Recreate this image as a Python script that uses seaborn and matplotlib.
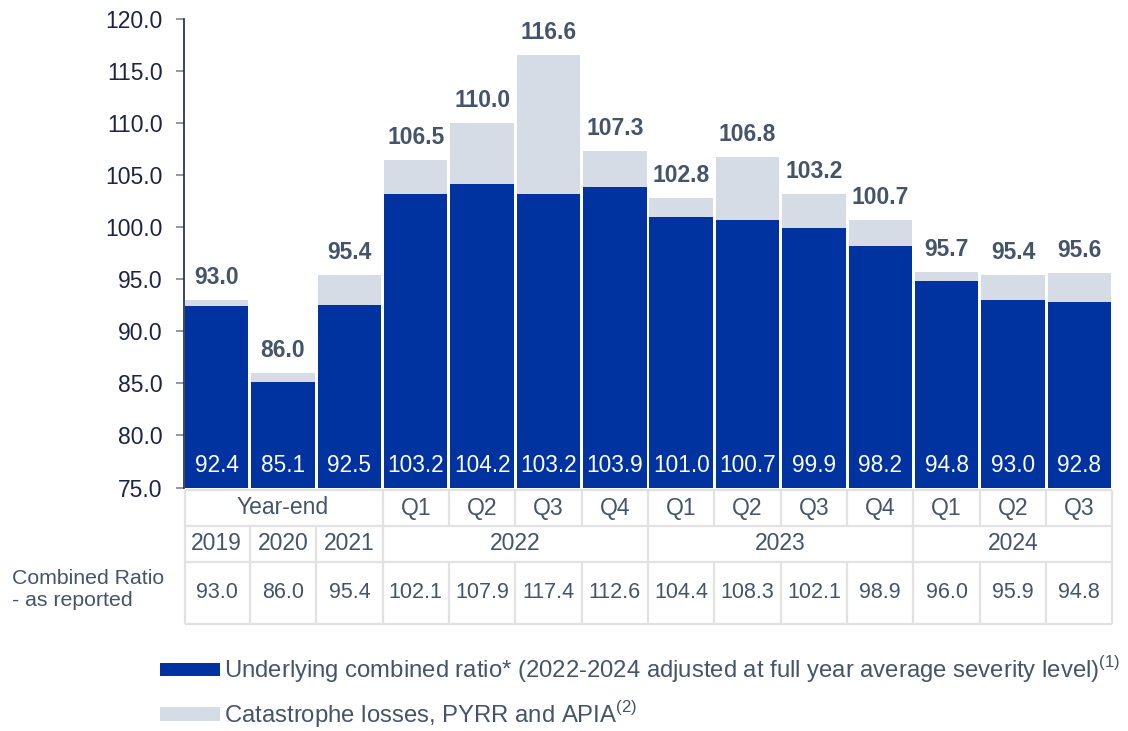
import matplotlib
matplotlib.use("Agg")
import matplotlib.pyplot as plt
import numpy as np
import pandas as pd
import seaborn as sns
from matplotlib.patches import Patch

# ---------------- data ----------------
periods = ["2019", "2020", "2021",
           "2022 Q1", "2022 Q2", "2022 Q3", "2022 Q4",
           "2023 Q1", "2023 Q2", "2023 Q3", "2023 Q4",
           "2024 Q1", "2024 Q2", "2024 Q3"]
underlying = [92.4, 85.1, 92.5, 103.2, 104.2, 103.2, 103.9,
              101.0, 100.7, 99.9, 98.2, 94.8, 93.0, 92.8]
total = [93.0, 86.0, 95.4, 106.5, 110.0, 116.6, 107.3,
         102.8, 106.8, 103.2, 100.7, 95.7, 95.4, 95.6]
reported = [93.0, 86.0, 95.4, 102.1, 107.9, 117.4, 112.6,
            104.4, 108.3, 102.1, 98.9, 96.0, 95.9, 94.8]

sub_labels = ["Year-end", "Q1", "Q2", "Q3", "Q4", "Q1", "Q2", "Q3", "Q4",
              "Q1", "Q2", "Q3"]
sub_spans = [3, 1, 1, 1, 1, 1, 1, 1, 1, 1, 1, 1]
year_labels = ["2019", "2020", "2021", "2022", "2023", "2024"]
year_spans = [1, 1, 1, 4, 4, 3]
yticks = [75, 80, 85, 90, 95, 100, 105, 110, 115, 120]

legend_labels = [
    r"Underlying combined ratio* (2022-2024 adjusted at full year average severity level)$^{\mathregular{(1)}}$",
    r"Catastrophe losses, PYRR and APIA$^{\mathregular{(2)}}$",
]
row_title = "Combined Ratio\n- as reported"

# ---------------- style ----------------
DARK = "#0033a0"
LIGHT = "#d6dce5"
TXT = "#44546a"
NAVY = "#1b2346"
GRID = "#e2e2e2"

sns.set_style("white")
plt.rcParams["font.family"] = ["Liberation Sans", "DejaVu Sans"]
plt.rcParams["mathtext.fontset"] = "custom"
plt.rcParams["mathtext.rm"] = "Liberation Sans"

W, H = 1128, 731
fig = plt.figure(figsize=(W / 100, H / 100), dpi=100)

def px_axes(l, t, r, b):
    return [l / W, 1 - b / H, (r - l) / W, (b - t) / H]

ax = fig.add_axes(px_axes(183.5, 19.3, 1112.5, 487.5))

df = pd.DataFrame({"period": periods, "underlying": underlying, "total": total})
BW = 0.955
sns.barplot(data=df, x="period", y="total", color=LIGHT, saturation=1,
            width=BW, ax=ax, linewidth=0, order=periods)
sns.barplot(data=df, x="period", y="underlying", color=DARK, saturation=1,
            width=BW, ax=ax, linewidth=0, order=periods)

ax.set_xlim(-0.5, len(periods) - 0.5)
ax.set_ylim(75, 120)
ax.set_yticks(yticks)
ax.set_yticklabels([f"{v:.1f}" for v in yticks])
ax.set_xticks([])
ax.set_xlabel("")
ax.set_ylabel("")
for s in ["top", "right", "bottom"]:
    ax.spines[s].set_visible(False)
ax.spines["left"].set_color(NAVY)
ax.spines["left"].set_linewidth(1.2)
ax.tick_params(axis="y", direction="out", length=6, width=1.2, color="#7d869c",
               pad=9, labelsize=16.5, labelcolor=NAVY, left=True)

for i, (u, t) in enumerate(zip(underlying, total)):
    ax.annotate(f"{t:.1f}", xy=(i, t), xytext=(0, 8), textcoords="offset points",
                ha="center", va="bottom", fontsize=16.5, fontweight="bold", color=TXT)
    ax.annotate(f"{u:.1f}", xy=(i, 75), xytext=(0, 11.5), textcoords="offset points",
                ha="center", va="baseline", fontsize=16.3, color="white")

# ---------------- table ----------------
tab = fig.add_axes(px_axes(183.5, 487.5, 1112.5, 627))
tab.set_xlim(-0.5, len(periods) - 0.5)
tab.set_ylim(627, 487.5)
tab.axis("off")

y_rows = [490, 526, 562, 624]
x_left = -0.5 + (1 - BW) / 2
x_right = len(periods) - 0.5
kw = dict(color=GRID, lw=1.6, clip_on=False, solid_capstyle="butt")
for y in y_rows:
    tab.plot([x_left, x_right], [y, y], **kw)
tab.plot([x_left, x_left], [y_rows[0], y_rows[-1]], **kw)
tab.plot([x_right, x_right], [y_rows[0], y_rows[-1]], **kw)

def draw_row(labels, spans, y0, y1, fs):
    pos = 0
    for lab, sp in zip(labels, spans):
        cx = pos + (sp - 1) / 2
        tab.text(cx, (y0 + y1) / 2, lab, ha="center", va="center",
                 fontsize=fs, color=TXT)
        pos += sp
        if pos < len(periods):
            tab.plot([pos - 0.5, pos - 0.5], [y0, y1], **kw)

draw_row(sub_labels, sub_spans, y_rows[0], y_rows[1], 16.5)
draw_row(year_labels, year_spans, y_rows[1], y_rows[2], 16.5)
draw_row([f"{v:.1f}" for v in reported], [1] * len(reported),
         y_rows[2], y_rows[3], 15.5)

fig.text(12 / W, 1 - 590 / H, row_title, ha="left", va="center",
         fontsize=15.3, color=TXT, linespacing=1.2)

# ---------------- legend ----------------
handles = [Patch(facecolor=DARK, edgecolor="none"),
           Patch(facecolor=LIGHT, edgecolor="none")]
leg = fig.legend(handles, legend_labels, loc="upper left",
                 bbox_to_anchor=(160 / W, 1 - 654 / H), frameon=False,
                 fontsize=17.2, handlelength=2.5, handleheight=0.47,
                 handletextpad=0.17, labelspacing=0.58, borderpad=0,
                 borderaxespad=0)
for t in leg.get_texts():
    t.set_color(TXT)

fig.savefig("out.png", dpi=100)
